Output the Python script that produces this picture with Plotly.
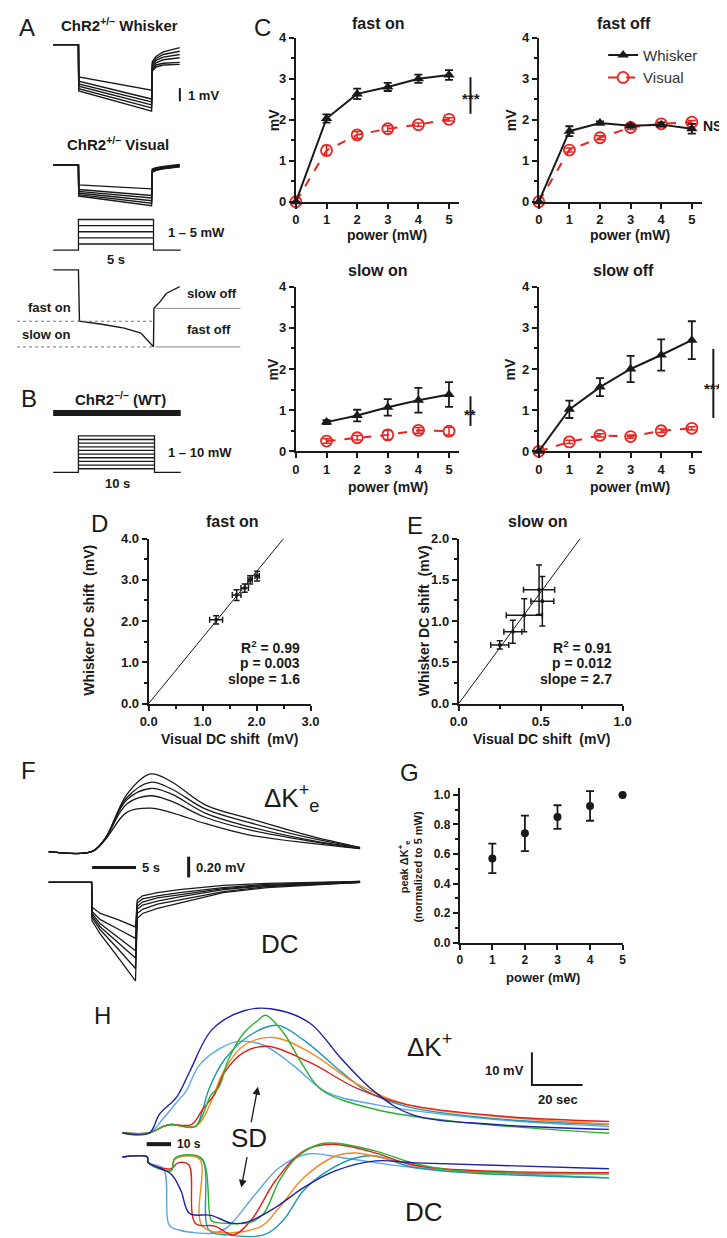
import plotly.graph_objects as go

W, H = 727, 1238
FONT = "Arial, 'Liberation Sans', Helvetica, sans-serif"
INK = "#1a1a1a"
RED = "#e8231f"

# ------------------------------------------------------------------ data
# Panel A (time in s from light onset, potential in mV)
a_time = [-1.73, 0.0, 0.02, 5.0, 5.05, 5.3, 5.8, 6.93]
a_whisker = [
    [0, 0, -2.46, -3.46, -1.30, -0.90, -0.55, -0.23],
    [0, 0, -2.78, -4.14, -1.45, -1.05, -0.75, -0.50],
    [0, 0, -3.00, -4.36, -1.60, -1.20, -0.95, -0.75],
    [0, 0, -3.16, -4.59, -1.75, -1.38, -1.15, -1.00],
    [0, 0, -3.35, -4.81, -1.90, -1.55, -1.42, -1.35],
    [0, 0, -3.53, -5.06, -2.00, -1.70, -1.55, -1.50],
]
a_visual = [
    [0, 0, -1.50, -1.80, -0.30, -0.20, -0.10, 0.05],
    [0, 0, -1.85, -2.30, -0.35, -0.25, -0.15, 0.00],
    [0, 0, -2.00, -2.50, -0.40, -0.30, -0.20, -0.05],
    [0, 0, -2.12, -2.70, -0.45, -0.33, -0.22, -0.08],
    [0, 0, -2.25, -2.90, -0.50, -0.38, -0.25, -0.10],
    [0, 0, -2.35, -3.08, -0.55, -0.40, -0.28, -0.12],
]
a_stim_powers = [1, 2, 3, 4, 5]
a_stim_dur = 5.0
schem_time = [-1.73, 0.0, 0.07, 1.6, 3.13, 4.27, 5.13, 5.16, 5.6, 6.0, 6.93]
schem_mv = [0, 0, -3.9, -4.14, -4.44, -4.81, -5.86, -2.93, -2.4, -1.8, -1.28]

# Panel B
wt_time = [-3.33, 13.46]
wt_mv = [0, 0]
b_stim_powers = [1, 2, 3, 4, 5, 6, 7, 8, 9, 10]
b_stim_dur = 10.0

# Panel C
power = [0, 1, 2, 3, 4, 5]
power_slow_on = [1, 2, 3, 4, 5]
fast_on_whisker = [0, 2.03, 2.63, 2.80, 3.00, 3.09]
fast_on_whisker_err = [0, 0.10, 0.13, 0.10, 0.10, 0.12]
fast_on_visual = [0, 1.25, 1.63, 1.78, 1.88, 2.01]
fast_on_visual_err = [0, 0.12, 0.08, 0.07, 0.04, 0.04]
fast_off_whisker = [0, 1.72, 1.92, 1.85, 1.88, 1.78]
fast_off_whisker_err = [0, 0.12, 0.04, 0.04, 0.05, 0.12]
fast_off_visual = [0, 1.26, 1.56, 1.81, 1.90, 1.94]
fast_off_visual_err = [0, 0.05, 0.05, 0.05, 0.04, 0.04]
slow_on_whisker = [0.71, 0.87, 1.07, 1.24, 1.38]
slow_on_whisker_err = [0.05, 0.14, 0.20, 0.30, 0.30]
slow_on_visual = [0.25, 0.33, 0.40, 0.51, 0.49]
slow_on_visual_err = [0.055, 0.055, 0.11, 0.07, 0.095]
slow_off_whisker = [0, 1.02, 1.56, 2.00, 2.34, 2.70]
slow_off_whisker_err = [0, 0.21, 0.22, 0.32, 0.38, 0.46]
slow_off_visual = [0, 0.23, 0.39, 0.36, 0.50, 0.56]
slow_off_visual_err = [0, 0.04, 0.04, 0.04, 0.04, 0.04]
c_ticks_x = [0, 1, 2, 3, 4, 5]
c_ticks_y = [0, 1, 2, 3, 4]

# Panels D / E fits
d_slope, d_r2, d_p = 1.6, "0.99", "0.003"
e_slope, e_r2, e_p = 2.7, "0.91", "0.012"

# Panel F (time s from onset)
f_time_k = [-4.9, 0, 1.5, 4, 6.7, 9, 13, 18, 25, 30.6]
f_k = [
    [0, 0, 0.12, 0.55, 0.75, 0.68, 0.45, 0.32, 0.15, 0.04],
    [0, 0, 0.12, 0.52, 0.67, 0.61, 0.41, 0.28, 0.13, 0.04],
    [0, 0, 0.12, 0.50, 0.61, 0.56, 0.37, 0.24, 0.11, 0.04],
    [0, 0, 0.12, 0.46, 0.54, 0.49, 0.33, 0.21, 0.10, 0.03],
    [0, 0, 0.11, 0.38, 0.42, 0.38, 0.27, 0.16, 0.08, 0.03],
]
f_time_dc = [-4.9, 0, 0.05, 1.0, 3, 5, 5.2, 5.8, 7.5, 10, 15, 20, 30.6]
f_dc = [
    [0, 0, -0.24, -0.30, -0.36, -0.43, -0.17, -0.13, -0.10, -0.07, -0.03, -0.01, 0.01],
    [0, 0, -0.28, -0.36, -0.45, -0.54, -0.20, -0.16, -0.13, -0.10, -0.05, -0.02, 0.01],
    [0, 0, -0.30, -0.40, -0.53, -0.66, -0.23, -0.19, -0.15, -0.12, -0.06, -0.03, 0.00],
    [0, 0, -0.32, -0.43, -0.58, -0.73, -0.26, -0.22, -0.18, -0.14, -0.07, -0.03, 0.00],
    [0, 0, -0.34, -0.46, -0.64, -0.83, -0.30, -0.26, -0.21, -0.17, -0.09, -0.04, 0.00],
    [0, 0, -0.37, -0.50, -0.72, -0.95, -0.35, -0.30, -0.25, -0.20, -0.10, -0.05, 0.00],
]

# Panel G
g_power = [1, 2, 3, 4, 5]
g_peak = [0.57, 0.74, 0.85, 0.925, 1.0]
g_err = [0.10, 0.12, 0.08, 0.10, 0.0]

# Panel H (time s, mV)
hk_navy_t = [0, 10.6, 14.6, 21.5, 26.5, 35.4, 48, 58.5, 73.8, 86.5, 99.6, 114, 147, 192]
hk_navy_v = [0, 0, 5.7, 11.1, 18.7, 31.7, 37.5, 38.1, 33.8, 22.7, 12.6, 5.7, 2.6, 1.1]
hk_sky_t = [0, 10.6, 16.2, 22.3, 25, 30.4, 38.1, 45.8, 55.8, 67.3, 80.4, 100, 147.3, 192]
hk_sky_v = [0, 0, 4.5, 10.2, 12.6, 20.8, 25.7, 28.1, 26.9, 20.8, 12.6, 8.7, 4.1, 2.0]
hk_green_t = [0, 10.6, 16.2, 19.2, 28.8, 35, 38.1, 41.9, 48.1, 53.5, 56.5, 63.5, 71.2, 78.8, 100, 131.5, 192]
hk_green_v = [0, 0, 2, 2.6, 2, 11.7, 14.1, 22.6, 30.8, 34.5, 36.1, 30.8, 20.8, 13.1, 7.2, 3.5, -0.1]
hk_teal_t = [0, 10.6, 16.2, 19.2, 28.8, 31.5, 34.2, 40.4, 50.8, 61.2, 71.2, 86.5, 96.9, 112.3, 147.3, 192]
hk_teal_v = [0, 0, 2, 2.6, 2, 6.6, 13.5, 22.6, 30.2, 33, 28.7, 18.7, 12.6, 8.1, 4.4, 2.6]
hk_orange_t = [0, 10.6, 16.2, 19.2, 28.8, 32.3, 36.5, 40.4, 48.1, 59.6, 73.8, 93.1, 112.3, 147.3, 192]
hk_orange_v = [0, 0, 2, 2.6, 2, 5, 12.6, 19.6, 26.9, 29.3, 24.8, 14.8, 8.7, 5.1, 2.7]
hk_red_t = [0, 10.6, 16.2, 19.2, 27.3, 31.9, 36.5, 40.4, 48.1, 57.3, 73.8, 93.1, 112.3, 147.3, 192]
hk_red_v = [0, 0, 2, 2.6, 2.6, 7.5, 12, 18.7, 24.8, 26.6, 21.7, 13.5, 8.7, 5.3, 3.5]

hd_green_t = [0, 9.8, 10.2, 19.2, 20.8, 31.2, 35, 36.5, 50.8, 55.8, 61.9, 68.5, 77.7, 84.2, 100, 115.8, 131.5, 192]
hd_green_v = [0, 0, -1.7, -4.2, -0.3, -0.3, -19.4, -20, -20, -17.3, -7.3, -0.3, 3.9, 4.2, 1.8, -2.1, -4.2, -5.2]
hd_teal_t = [0, 9.8, 10.2, 19.2, 20.8, 31.2, 34.2, 41.5, 55.8, 63.5, 71.5, 81.2, 91.9, 100, 115.8, 192]
hd_teal_v = [0, 0, -1.7, -4.2, -0.6, -0.6, -22.4, -23.9, -23.9, -19.4, -10.3, -4.2, -0.3, 0.3, -3.3, -6.4]
hd_orange_t = [0, 9.8, 10.2, 19.2, 20.8, 30.4, 31.9, 54.2, 61.9, 71.5, 84.2, 91.9, 108.1, 131.5, 192]
hd_orange_v = [0, 0, -1.7, -4.2, -0.6, -0.6, -21.5, -21.5, -15.5, -6.4, 0.3, 1.2, -1.2, -4.2, -4.8]
hd_red_t = [0, 9.8, 10.2, 19.2, 21.9, 26.2, 28.8, 36.5, 43.8, 50.8, 60.4, 71.5, 82.7, 100, 115.8, 192]
hd_red_v = [0, 0, -1.7, -3.6, -1.8, -2.4, -20.3, -21.2, -23.9, -19.4, -7.3, 1.8, 3.9, 1.2, -2.7, -4.8]
hd_sky_t = [0, 9.8, 10.2, 16.2, 18.5, 22.3, 36.5, 41.5, 52.7, 61.9, 73.1, 87.3, 115.8, 192]
hd_sky_v = [0, 0, -1.7, -3.6, -20.9, -22.4, -23.3, -21.5, -11.2, -3.3, 0.9, -0.3, -3.3, -6.4]
hd_navy_t = [0, 9.8, 10.2, 19.2, 23.1, 26.5, 35, 43.1, 49.2, 60.4, 71.5, 84.2, 100, 115.8, 192]
hd_navy_v = [0, 0, -1.7, -5.2, -10.3, -17.3, -17.9, -20.3, -20, -15.5, -9.4, -4.2, -1.2, -1.8, -3.6]

H_COLORS = {"navy": "#1f1fa8", "sky": "#5aa6e6", "green": "#2cb02c",
            "teal": "#1c97b0", "orange": "#f28a1e", "red": "#e21f1f"}

# ------------------------------------------------------------------ helpers
fig = go.Figure()
lay = {}
ann = []
shapes = []


def ref(n):
    return "" if n == 1 else str(n)


def axes(n, xdom, ydom, xrange, yrange, xstyle=None, ystyle=None):
    xs = dict(domain=[xdom[0] / W, xdom[1] / W], range=xrange, anchor="y" + ref(n),
              visible=False, showgrid=False, zeroline=False, fixedrange=True)
    ys = dict(domain=[1 - ydom[1] / H, 1 - ydom[0] / H], range=yrange, anchor="x" + ref(n),
              visible=False, showgrid=False, zeroline=False, fixedrange=True)
    if xstyle:
        xs.update(visible=True, **xstyle)
    if ystyle:
        ys.update(visible=True, **ystyle)
    lay["xaxis" + ref(n)] = xs
    lay["yaxis" + ref(n)] = ys


def frame(tickvals, ticktext, minor=None, size=13):
    d = dict(showline=True, linewidth=2, linecolor=INK, ticks="outside", ticklen=5,
             tickwidth=2, tickcolor=INK, tickmode="array", tickvals=tickvals, ticktext=ticktext,
             tickfont=dict(family=FONT, size=size, color=INK, weight="bold"))
    if minor:
        d["minor"] = dict(ticks="outside", ticklen=3, tickwidth=1.5, tickcolor=INK,
                          dtick=minor, tick0=0, showgrid=False)
    return d


def line(n, x, y, color=INK, width=1.2, dash=None, shape="linear", **kw):
    fig.add_trace(go.Scatter(x=x, y=y, mode="lines", xaxis="x" + ref(n), yaxis="y" + ref(n),
                             line=dict(color=color, width=width, dash=dash, shape=shape),
                             showlegend=False, hoverinfo="skip", **kw))


def text(s, x, y, size=13, bold=True, anchor="center", angle=0, color=INK, **kw):
    ann.append(dict(text=s, x=x / W, y=1 - y / H, xref="paper", yref="paper", showarrow=False,
                    xanchor=anchor, yanchor="middle", textangle=angle,
                    font=dict(family=FONT, size=size, color=color,
                              weight="bold" if bold else "normal"), **kw))


def seg(x0, y0, x1, y1, width=2, color=INK, dash=None):
    shapes.append(dict(type="line", xref="paper", yref="paper", x0=x0 / W, y0=1 - y0 / H,
                       x1=x1 / W, y1=1 - y1 / H, line=dict(color=color, width=width, dash=dash)))


def stim(n, powers, dur, t0, t1):
    pmax = max(powers)
    line(n, [t0, 0, 0, dur, dur, t1], [0, 0, pmax, pmax, 0, 0], width=1.3)
    for p in powers[:-1]:
        line(n, [0, dur], [p, p], width=1.3)


# ------------------------------------------------------------------ panel A
axes(1, (37, 167), (25, 105), [-1.733, 6.933], [-5.64, 0.376])
for tr in a_whisker:
    line(1, a_time, tr, width=1.4)
axes(2, (37, 167), (147, 197), [-1.733, 6.933], [-3.38, 0.376])
for tr in a_visual:
    line(2, a_time, tr, width=1.4)
axes(3, (37, 168), (205, 240), [-1.69, 6.82], [-0.32, 5.32])
stim(3, a_stim_powers, a_stim_dur, -1.69, 6.82)
axes(4, (37, 167), (250, 340), [-1.733, 6.933], [-6.17, 0.6])
line(4, schem_time, schem_mv, width=1.4)

text("A", 10, 13, size=24, bold=False)
text("ChR2<sup>+/–</sup> Whisker", 105, 10, size=15)
seg(167, 74, 167, 87.3, width=2)
text("1 mV", 173, 81, size=13, anchor="left")
text("ChR2<sup>+/–</sup> Visual", 104, 130, size=15)
text("1 – 5 mW", 153, 220, size=13, anchor="left")
text("5 s", 102, 248, size=13)
seg(0, 310, 140, 310, width=1, color="#777", dash="dot")
seg(0, 336, 140, 336, width=1, color="#777", dash="dot")
seg(142, 297, 229, 297, width=1, color="#888")
seg(142, 336, 229, 336, width=1, color="#888")
text("slow off", 200, 282, size=13)
text("fast off", 197, 318, size=13)
text("fast on", 33, 296, size=13)
text("slow on", 30, 323, size=13)

# ------------------------------------------------------------------ panel B
axes(5, (37, 168), (395, 411), [-3.33, 13.46], [-1, 1])
line(5, wt_time, wt_mv, width=6)
axes(6, (37, 168), (424, 465), [-3.33, 13.46], [-0.54, 10.54])
stim(6, b_stim_powers, b_stim_dur, -3.33, 13.46)
text("B", 12, 388, size=24, bold=False)
text("ChR2<sup>–/–</sup> (WT)", 106, 388, size=15)
text("1 – 10 mW", 153, 443, size=13, anchor="left")
text("10 s", 103, 474, size=13)

# ------------------------------------------------------------------ panel C
cx = frame(c_ticks_x, [str(v) for v in c_ticks_x])
cy = frame(c_ticks_y, [str(v) for v in c_ticks_y], minor=0.5)
c_specs = [
    (7, (286, 453), (23, 189), "fast on", power, fast_on_whisker, fast_on_whisker_err,
     power, fast_on_visual, fast_on_visual_err, (370, 8.5), (379, 222.5), 263),
    (8, (535, 702), (23, 189), "fast off", power, fast_off_whisker, fast_off_whisker_err,
     power, fast_off_visual, fast_off_visual_err, (622, 8.5), (629, 222.5), 506),
    (9, (286, 453), (275, 441.7), "slow on", power_slow_on, slow_on_whisker, slow_on_whisker_err,
     power_slow_on, slow_on_visual, slow_on_visual_err, (370, 258.5), (380, 478), 263),
    (10, (535, 702), (275, 441.7), "slow off", power, slow_off_whisker, slow_off_whisker_err,
     power, slow_off_visual, slow_off_visual_err, (622, 258.5), (629, 478), 506),
]
for n, xd, yd, title, xw, yw, ew, xv, yv, ev, tpos, ppos, mvx in c_specs:
    axes(n, xd, yd, [0, 5.32], [0, 4], xstyle=cx, ystyle=cy)
    legend_on = (title == "fast off")
    fig.add_trace(go.Scatter(
        x=xv, y=yv, mode="lines+markers", name="Visual", showlegend=legend_on,
        xaxis="x" + ref(n), yaxis="y" + ref(n), cliponaxis=False, hoverinfo="skip",
        line=dict(color=RED, width=2, dash="dash"),
        marker=dict(symbol="circle-open", size=11, color=RED, line=dict(width=1.8, color=RED)),
        error_y=dict(type="data", array=ev, color=RED, thickness=1.5, width=4)))
    fig.add_trace(go.Scatter(
        x=xw, y=yw, mode="lines+markers", name="Whisker", showlegend=legend_on,
        xaxis="x" + ref(n), yaxis="y" + ref(n), cliponaxis=False, hoverinfo="skip",
        line=dict(color=INK, width=2),
        marker=dict(symbol="triangle-up", size=10, color=INK),
        error_y=dict(type="data", array=ew, color=INK, thickness=1.8, width=4)))
    text(title, tpos[0], tpos[1], size=16)
    text("power (mW)", ppos[0], ppos[1], size=14)
    text("mV", mvx, (yd[0] + yd[1]) / 2, size=14, angle=-90)

text("C", 252, 13, size=24, bold=False)
seg(465, 63, 465, 100, width=2)
text("***", 466, 85, size=15)
text("NS", 713, 112, size=14)
seg(465, 386, 465, 416, width=2)
text("**", 465, 404, size=15)
seg(714, 338, 714, 408, width=2)
text("***", 714, 378, size=15)

# ------------------------------------------------------------------ panel D
dx = frame([0, 1, 2, 3], ["0.0", "1.0", "2.0", "3.0"], minor=0.5)
dy = frame([0, 1, 2, 3, 4], ["0.0", "1.0", "2.0", "3.0", "4.0"], minor=0.5)
axes(11, (135, 301), (530, 697), [0, 3], [0, 4], xstyle=dx, ystyle=dy)
line(11, [0, 4 / d_slope], [0, 4], width=1)
fig.add_trace(go.Scatter(
    x=fast_on_visual[1:], y=fast_on_whisker[1:], mode="markers", xaxis="x11", yaxis="y11",
    showlegend=False, hoverinfo="skip", cliponaxis=False,
    marker=dict(size=4, color=INK),
    error_x=dict(type="data", array=fast_on_visual_err[1:], color=INK, thickness=1.5, width=3),
    error_y=dict(type="data", array=fast_on_whisker_err[1:], color=INK, thickness=1.5, width=3)))
text("D", 85, 515, size=24, bold=False)
text("fast on", 220, 513, size=16)
text("Visual DC shift  (mV)", 218, 733, size=14)
text("Whisker DC shift  (mV)", 73, 613, size=14, angle=-90)
text(f"R<sup>2</sup> = {d_r2}", 292, 640, size=14, anchor="right")
text(f"p = {d_p}", 292, 656, size=14, anchor="right")
text(f"slope = {d_slope}", 292, 672, size=14, anchor="right")

# ------------------------------------------------------------------ panel E
ex = frame([0, 0.5, 1], ["0.0", "0.5", "1.0"], minor=0.25)
ey = frame([0, 0.5, 1, 1.5, 2], ["0.0", "0.5", "1.0", "1.5", "2.0"], minor=0.25)
axes(12, (453, 621), (530, 697), [0, 1], [0, 2], xstyle=ex, ystyle=ey)
line(12, [0, 2 / e_slope], [0, 2], width=1)
fig.add_trace(go.Scatter(
    x=slow_on_visual, y=slow_on_whisker, mode="markers", xaxis="x12", yaxis="y12",
    showlegend=False, hoverinfo="skip", cliponaxis=False,
    marker=dict(size=4, color=INK),
    error_x=dict(type="data", array=slow_on_visual_err, color=INK, thickness=1.5, width=3),
    error_y=dict(type="data", array=slow_on_whisker_err, color=INK, thickness=1.5, width=3)))
text("E", 408, 517, size=24, bold=False)
text("slow on", 534, 513, size=16)
text("Visual DC shift  (mV)", 538, 733, size=14)
text("Whisker DC shift  (mV)", 417, 613, size=14, angle=-90)
text(f"R<sup>2</sup> = {e_r2}", 612, 640, size=14, anchor="right")
text(f"p = {e_p}", 612, 656, size=14, anchor="right")
text(f"slope = {e_slope}", 612, 672, size=14, anchor="right")

# ------------------------------------------------------------------ panel F
axes(13, (32, 352), (760, 850), [-4.94, 30.6], [-0.029, 0.829])
for tr in f_k:
    line(13, f_time_k, tr, width=1.3, shape="spline")
axes(14, (32, 352), (870, 985), [-4.94, 30.6], [-1.019, 0.076])
for tr in f_dc:
    line(14, f_time_dc, tr, width=1.3)
text("F", 12, 765, size=24, bold=False)
text("ΔK<sup>+</sup><sub>e</sub>", 251, 793, size=26, bold=False, anchor="left")
seg(77, 863, 122, 863, width=3)
text("5 s", 126, 863, size=13, anchor="left")
seg(176, 852, 176, 873, width=3)
text("0.20 mV", 181, 863, size=13, anchor="left")
text("DC", 270, 940, size=26, bold=False)

# ------------------------------------------------------------------ panel G
gx = frame([0, 1, 2, 3, 4, 5], ["0", "1", "2", "3", "4", "5"], size=12)
gy = frame([0, 0.2, 0.4, 0.6, 0.8, 1.0], ["0.0", "0.2", "0.4", "0.6", "0.8", "1.0"], minor=0.1, size=12)
axes(15, (454, 621), (782, 939), [0, 5], [0, 1.05], xstyle=gx, ystyle=gy)
fig.add_trace(go.Scatter(
    x=g_power, y=g_peak, mode="markers", xaxis="x15", yaxis="y15", showlegend=False,
    hoverinfo="skip", cliponaxis=False, marker=dict(size=8, color=INK),
    error_y=dict(type="data", array=g_err, color=INK, thickness=1.8, width=4)))
text("G", 402, 767, size=24, bold=False)
text("power (mW)", 539, 974, size=13)
text("peak ΔK<sup>+</sup><sub>e</sub><br>(normalized to 5 mW)", 403, 862, size=11, angle=-90)

# ------------------------------------------------------------------ panel H
axes(16, (108, 607), (1000, 1135), [0, 192], [-1.0, 39.9])
axes(17, (108, 607), (1135, 1238), [0, 192], [-24.85, 6.36])
for key, t, v in [("sky", hk_sky_t, hk_sky_v), ("teal", hk_teal_t, hk_teal_v),
                  ("orange", hk_orange_t, hk_orange_v), ("red", hk_red_t, hk_red_v),
                  ("green", hk_green_t, hk_green_v), ("navy", hk_navy_t, hk_navy_v)]:
    line(16, t, v, color=H_COLORS[key], width=1.4, shape="spline")
for key, t, v in [("sky", hd_sky_t, hd_sky_v), ("teal", hd_teal_t, hd_teal_v),
                  ("orange", hd_orange_t, hd_orange_v), ("red", hd_red_t, hd_red_v),
                  ("green", hd_green_t, hd_green_v), ("navy", hd_navy_t, hd_navy_v)]:
    line(17, t, v, color=H_COLORS[key], width=1.4, shape="spline")
text("H", 88, 1013, size=24, bold=False)
text("ΔK<sup>+</sup>", 398, 1043, size=26, bold=False, anchor="left")
seg(528, 1050, 528, 1083, width=2)
seg(527, 1083, 580, 1083, width=2)
text("10 mV", 522, 1068, size=13, anchor="right")
text("20 sec", 555, 1098, size=13)
seg(133, 1143, 158, 1143, width=4)
text("10 s", 176, 1143, size=12)
text("SD", 238, 1137, size=26, bold=False)
for hx, hy, tx, ty in [(247, 1085, 240, 1122), (230, 1187, 236, 1155)]:
    ann.append(dict(x=hx / W, y=1 - hy / H, xref="paper", yref="paper", text="",
                    showarrow=True, ax=tx - hx, ay=ty - hy, arrowhead=2, arrowsize=1.2,
                    arrowwidth=1.3, arrowcolor=INK))
text("DC", 417, 1212, size=26, bold=False)

# ------------------------------------------------------------------ layout
fig.update_layout(
    width=W, height=H, margin=dict(l=0, r=0, t=0, b=0),
    paper_bgcolor="white", plot_bgcolor="white", hovermode=False,
    font=dict(family=FONT, color=INK),
    annotations=ann, shapes=shapes,
    legend=dict(x=601 / W, y=1 - 24 / H, xanchor="left", yanchor="top",
                font=dict(family=FONT, size=15, color="#333"), bgcolor="rgba(0,0,0,0)",
                itemwidth=30, tracegroupgap=0, traceorder="reversed"),
    **lay,
)
fig.write_html("out.html")
